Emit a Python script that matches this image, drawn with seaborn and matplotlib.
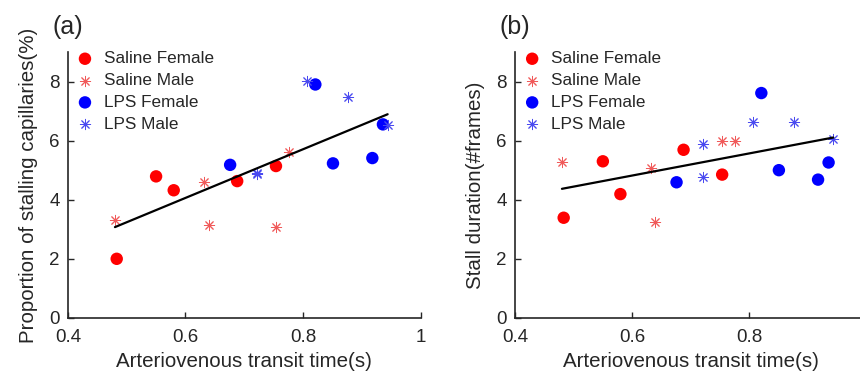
import numpy as np
import pandas as pd
import seaborn as sns
import matplotlib.pyplot as plt

# transit times (s), same animals in both panels
sal_f_x = [0.483, 0.550, 0.580, 0.688, 0.754]
sal_m_x = [0.480, 0.632, 0.640, 0.754, 0.776]
lps_f_x = [0.676, 0.821, 0.851, 0.918, 0.936]
lps_m_x = [0.721, 0.721, 0.806, 0.877, 0.944]

# (a) proportion of stalling capillaries (%)
sal_f_a = [2.00, 4.79, 4.32, 4.63, 5.14]
sal_m_a = [3.30, 4.59, 3.16, 3.07, 5.62]
lps_f_a = [5.18, 7.90, 5.23, 5.41, 6.55]
lps_m_a = [4.87, 4.90, 8.02, 7.49, 6.52]

# (b) stall duration (#frames)
sal_f_b = [3.39, 5.30, 4.19, 5.69, 4.85]
sal_m_b = [5.28, 5.09, 3.24, 5.99, 5.99]
lps_f_b = [4.59, 7.61, 5.00, 4.68, 5.26]
lps_m_b = [5.89, 4.76, 6.63, 6.63, 6.05]

groups = ["Saline Female", "Saline Male", "LPS Female", "LPS Male"]
xs = [sal_f_x, sal_m_x, lps_f_x, lps_m_x]


def make_df(ys):
    rows = []
    for g, xv, yv in zip(groups, xs, ys):
        for a, b in zip(xv, yv):
            rows.append({"group": g, "x": a, "y": b})
    return pd.DataFrame(rows)


df_a = make_df([sal_f_a, sal_m_a, lps_f_a, lps_m_a])
df_b = make_df([sal_f_b, sal_m_b, lps_f_b, lps_m_b])

sns.set_style("ticks")
plt.rcParams['font.family'] = ['Liberation Sans', 'DejaVu Sans']

styles = {
    "Saline Female": dict(color="#ff0000", marker="o", s=80, edgecolor="none"),
    "Saline Male": dict(color="#f05a5a", marker=(8, 2, 0), s=55, linewidth=0.7),
    "LPS Female": dict(color="#0000ff", marker="o", s=80, edgecolor="none"),
    "LPS Male": dict(color="#4a4af0", marker=(8, 2, 0), s=55, linewidth=0.7),
}


def panel(ax, df, ylabel, letter, xticks, xticklabels):
    for g in groups:
        d = df[df.group == g]
        sns.scatterplot(data=d, x="x", y="y", ax=ax, label=g, **styles[g])
    sns.regplot(data=df, x="x", y="y", ax=ax, scatter=False, ci=None,
                color="k", line_kws=dict(linewidth=1.6))
    ax.set_xlim(0.4, 1.0)
    ax.set_ylim(0, 9)
    ax.set_xticks(xticks)
    ax.set_xticklabels(xticklabels)
    ax.set_yticks([0, 2, 4, 6, 8])
    ax.tick_params(direction="in", labelsize=13.5, length=4, width=1)
    ax.tick_params(axis="x", pad=8)
    ax.tick_params(axis="y", pad=6)
    for sp in ["top", "right"]:
        ax.spines[sp].set_visible(False)
    for sp in ["left", "bottom"]:
        ax.spines[sp].set_linewidth(1.2)
    ax.set_xlabel("Arteriovenous transit time(s)", fontsize=14.8, labelpad=4)
    ax.set_ylabel(ylabel, fontsize=14.8, labelpad=8)
    ax.legend(loc="upper left", frameon=False, fontsize=12.3,
              handletextpad=0.5, labelspacing=0.4, borderpad=0.0,
              handlelength=1.2, bbox_to_anchor=(-0.005, 1.035))
    ax.text(-0.045, 1.05, letter, transform=ax.transAxes, fontsize=18,
            ha="left", va="bottom")


fig = plt.figure(figsize=(8.6, 3.74), dpi=100)
ax1 = fig.add_axes([0.079, 0.150, 0.410, 0.711])
ax2 = fig.add_axes([0.599, 0.150, 0.408, 0.711])

panel(ax1, df_a, "Proportion of stalling capillaries(%)", "(a)",
      [0.4, 0.6, 0.8, 1.0], ["0.4", "0.6", "0.8", "1"])
panel(ax2, df_b, "Stall duration(#frames)", "(b)",
      [0.4, 0.6, 0.8], ["0.4", "0.6", "0.8"])

fig.savefig("out.png", dpi=100)
